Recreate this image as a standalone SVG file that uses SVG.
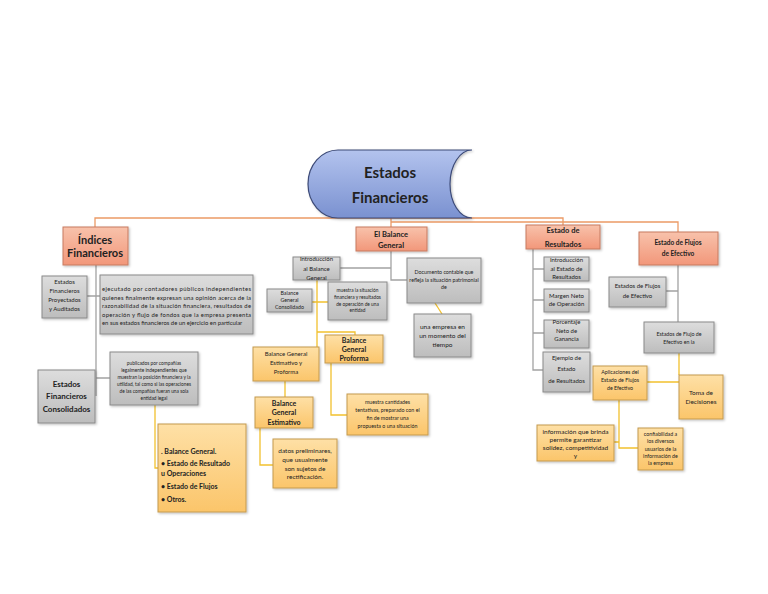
<svg xmlns="http://www.w3.org/2000/svg" width="768" height="594" viewBox="0 0 768 594">
<defs>
<linearGradient id="gGray" x1="0" y1="0" x2="0" y2="1"><stop offset="0" stop-color="#dddddd"/><stop offset="1" stop-color="#bdbdbd"/></linearGradient>
<linearGradient id="gOr" x1="0" y1="0" x2="0" y2="1"><stop offset="0" stop-color="#f8c2ab"/><stop offset="1" stop-color="#f2977a"/></linearGradient>
<linearGradient id="gYe" x1="0" y1="0" x2="0" y2="1"><stop offset="0" stop-color="#fee0a6"/><stop offset="1" stop-color="#fbc56a"/></linearGradient>
<linearGradient id="gBl" x1="0" y1="0" x2="0" y2="1"><stop offset="0" stop-color="#b3c3ee"/><stop offset="1" stop-color="#7a91d0"/></linearGradient>
<filter id="sh" x="-20%" y="-20%" width="150%" height="150%"><feDropShadow dx="1.2" dy="1.2" stdDeviation="0.8" flood-color="#000" flood-opacity="0.25"/></filter>
</defs>
<style>
text{font-family:Lato,"Liberation Sans",Arial,sans-serif;fill:#222;text-anchor:middle}
.b{font-weight:bold}
.l{text-anchor:start}
.gray{fill:url(#gGray);stroke:#8a8a8a;stroke-width:1;filter:url(#sh)}
.or{fill:url(#gOr);stroke:#c77b60;stroke-width:1;filter:url(#sh)}
.ye{fill:url(#gYe);stroke:#c49a4f;stroke-width:1;filter:url(#sh)}
.co{fill:none;stroke:#ec9a66;stroke-width:1.3}
.cg{fill:none;stroke:#a3a3a3;stroke-width:1.3}
.cy{fill:none;stroke:#f2c12e;stroke-width:1.3}
</style>
<rect width="768" height="594" fill="#ffffff"/>
<g id="connectors">
<path class="co" d="M95,227 V218 H563 V225"/>
<path class="co" d="M391,214 V227"/>
<path class="co" d="M391,222 H678 V232"/>
<path class="cg" d="M96,265 V396 M87,296 H100 M96,378 H110"/>
<path class="cy" d="M155,405 V468 H158"/>
<path class="cg" d="M391,251 V280 H407 M340,268 H391"/>
<path class="cy" d="M435,303 L442,314"/>
<path class="cy" d="M317,280 V347 M312,302 H328 M317,332 H355 V335"/>
<path class="cy" d="M285,381 V397"/>
<path class="cy" d="M331,363 V415 H347"/>
<path class="cy" d="M260,428 V465 H273"/>
<path class="cg" d="M533,249 V370 H543 M533,269 H544 M533,300 H544 M533,333 H544"/>
<path class="cg" d="M678,265 V322 M666,291 H678"/>
<path class="cy" d="M679,353 V375 M647,382 H679"/>
<path class="cy" d="M619,400 V448 H638 M614,442 H619"/>
</g>
<g id="title">
<path d="M338,150 H472 A22,34 0 0 0 472,218 H338 A30,34 0 0 1 338,150 Z" fill="url(#gBl)" stroke="#3c4a77" stroke-width="1.2" filter="url(#sh)"/>
<text x="390" y="178" class="b" font-size="15">Estados</text>
<text x="390" y="203" class="b" font-size="15">Financieros</text>
</g>
<g id="indices"><rect class="or" x="63" y="227" width="65" height="38"/>
<text x="95" y="244" class="b" font-size="11">Índices</text><text x="95" y="257" class="b" font-size="11">Financieros</text></g>
<g id="balance"><rect class="or" x="356" y="227" width="71" height="24"/>
<text x="391" y="237" class="b" font-size="7.5">El Balance</text><text x="391" y="248" class="b" font-size="7.5">General</text></g>
<g id="resultados"><rect class="or" x="526" y="225" width="74" height="24"/>
<text x="563" y="233" class="b" font-size="7.5">Estado de</text><text x="563" y="247" class="b" font-size="7.5">Resultados</text></g>
<g id="flujos"><rect class="or" x="639" y="232" width="79" height="33"/>
<text x="678" y="244.5" class="b" font-size="6.5">Estado de Flujos</text><text x="678" y="255.5" class="b" font-size="6.5">de Efectivo</text></g>
<g id="proyectados"><rect class="gray" x="42" y="276" width="45" height="42"/>
<text x="64.5" y="284" font-size="6">Estados</text><text x="64.5" y="293" font-size="6">Financieros</text><text x="64.5" y="302" font-size="6">Proyectados</text><text x="64.5" y="311" font-size="6">y Auditados</text></g>
<g id="ejecutado"><rect class="gray" x="100" y="275" width="153" height="59"/>
<g font-size="5.9">
<text class="l" x="102" y="291" textLength="149" lengthAdjust="spacing">ejecutado por contadores públicos independientes</text>
<text class="l" x="102" y="299.5" textLength="149" lengthAdjust="spacing">quienes finalmente expresan una opinión acerca de la</text>
<text class="l" x="102" y="308" textLength="149" lengthAdjust="spacing">razonabilidad de la situación financiera, resultados de</text>
<text class="l" x="102" y="316.5" textLength="149" lengthAdjust="spacing">operación y flujo de fondos que la empresa presenta</text>
<text class="l" x="102" y="325">en sus estados financieros de un ejercicio en particular</text>
</g></g>
<g id="consolidados"><rect class="gray" x="38" y="370" width="57" height="53"/>
<text x="66.5" y="387" class="b" font-size="8">Estados</text><text x="66.5" y="399" class="b" font-size="8">Financieros</text><text x="66.5" y="412" class="b" font-size="8">Consolidados</text></g>
<g id="publicados"><rect class="gray" x="110" y="352" width="88" height="53"/>
<g font-size="4.8"><text x="154" y="365">publicados por compañías</text><text x="154" y="372">legalmente independientes que</text><text x="154" y="379">muestran la posición financiera y la</text><text x="154" y="386">utilidad, tal como si las operaciones</text><text x="154" y="393">de las compañías fueran una sola</text><text x="154" y="400">entidad legal</text></g></g>
<g id="lista"><rect class="ye" x="158" y="424" width="88" height="88"/>
<g class="b" font-size="7"><text class="l" x="161" y="454">. Balance General.</text><text class="l" x="161" y="466">•  Estado de Resultado</text><text class="l" x="161" y="476">u   Operaciones</text><text class="l" x="161" y="489">•  Estado de Flujos</text><text class="l" x="161" y="502">•  Otros.</text></g></g>
<g id="introbal"><rect class="gray" x="293" y="257" width="47" height="23"/>
<g font-size="6"><text x="316.5" y="261">Introducción</text><text x="316.5" y="271">al Balance</text><text x="316.5" y="280">General</text></g></g>
<g id="documento"><rect class="gray" x="407" y="258" width="74" height="45"/>
<g font-size="5.3"><text x="444" y="274">Documento contable que</text><text x="444" y="282">refleja la situación patrimonial</text><text x="444" y="289">de</text></g></g>
<g id="empresa"><rect class="gray" x="414" y="314" width="57" height="43"/>
<g font-size="6.5"><text x="442.5" y="329">una empresa en</text><text x="442.5" y="338">un momento del</text><text x="442.5" y="347">tiempo</text></g></g>
<g id="bgconsolidado"><rect class="gray" x="267" y="289" width="45" height="23"/>
<g font-size="5.3"><text x="289.5" y="295">Balance</text><text x="289.5" y="302">General</text><text x="289.5" y="309">Consolidado</text></g></g>
<g id="muestrasit"><rect class="gray" x="328" y="282" width="59" height="38"/>
<g font-size="4.8"><text x="357.5" y="292">muestra la situación</text><text x="357.5" y="299">financiera y resultados</text><text x="357.5" y="305.5">de operación de una</text><text x="357.5" y="312">entidad</text></g></g>
<g id="estyprof"><rect class="ye" x="253" y="347" width="66" height="34"/>
<g font-size="6"><text x="286" y="356">Balance General</text><text x="286" y="365">Estimativo y</text><text x="286" y="374">Proforma</text></g></g>
<g id="proforma"><rect class="ye" x="325" y="335" width="58" height="28"/>
<g class="b" font-size="7"><text x="354" y="342.5">Balance</text><text x="354" y="351.5">General</text><text x="354" y="360.5">Proforma</text></g></g>
<g id="estimativo"><rect class="ye" x="255" y="397" width="58" height="31"/>
<g class="b" font-size="7"><text x="284" y="405.5">Balance</text><text x="284" y="414.5">General</text><text x="284" y="424.5">Estimativo</text></g></g>
<g id="muestracant"><rect class="ye" x="347" y="394" width="81" height="41"/>
<g font-size="5.3"><text x="387.5" y="404">muestra cantidades</text><text x="387.5" y="412">tentativas, preparado con el</text><text x="387.5" y="420">fin de mostrar una</text><text x="387.5" y="428">propuesta o una situación</text></g></g>
<g id="datos"><rect class="ye" x="273" y="439" width="64" height="49"/>
<g font-size="6.5"><text x="305" y="452.5">datos preliminares,</text><text x="305" y="461.5">que usualmente</text><text x="305" y="470.5">son sujetos de</text><text x="305" y="478.5">rectificación.</text></g></g>
<g id="introres"><rect class="gray" x="544" y="257" width="45" height="24"/>
<g font-size="6"><text x="566.5" y="262">Introducción</text><text x="566.5" y="271">al Estado de</text><text x="566.5" y="279">Resultados</text></g></g>
<g id="margen"><rect class="gray" x="544" y="289" width="45" height="23"/>
<g font-size="6"><text x="566.5" y="298">Margen Neto</text><text x="566.5" y="306">de Operación</text></g></g>
<g id="porcentaje"><rect class="gray" x="544" y="320" width="45" height="28"/>
<g font-size="6"><text x="566.5" y="324">Porcentaje</text><text x="566.5" y="333">Neto de</text><text x="566.5" y="341">Ganancia</text></g></g>
<g id="ejemplo"><rect class="gray" x="543" y="352" width="47" height="40"/>
<g font-size="6"><text x="566.5" y="360">Ejemplo de</text><text x="566.5" y="371">Estado</text><text x="566.5" y="383">de Resultados</text></g></g>
<g id="estflujos"><rect class="gray" x="609" y="277" width="57" height="30"/>
<g font-size="6"><text x="637.5" y="288">Estados de Flujos</text><text x="637.5" y="298">de Efectivo</text></g></g>
<g id="enla"><rect class="gray" x="644" y="322" width="70" height="31"/>
<g font-size="5.3"><text x="679" y="336">Estados de Flujo de</text><text x="679" y="344">Efectivo en la</text></g></g>
<g id="aplicaciones"><rect class="ye" x="593" y="366" width="54" height="34"/>
<g font-size="5.3"><text x="620" y="374">Aplicaciones del</text><text x="620" y="382">Estado de Flujos</text><text x="620" y="390">de Efectivo</text></g></g>
<g id="toma"><rect class="ye" x="679" y="375" width="44" height="44"/>
<g font-size="6.5"><text x="701" y="394.5">Toma de</text><text x="701" y="403.5">Decisiones</text></g></g>
<g id="informacion"><rect class="ye" x="537" y="425" width="77" height="36"/>
<g font-size="6.5"><text x="575.5" y="433.5">información que brinda</text><text x="575.5" y="441.5">permite garantizar</text><text x="575.5" y="449.5">solidez, competitividad</text><text x="575.5" y="457.5">y</text></g></g>
<g id="confiabilidad"><rect class="ye" x="638" y="428" width="45" height="42"/>
<g font-size="5.3"><text x="660.5" y="436">confiabilidad a</text><text x="660.5" y="443">los diversos</text><text x="660.5" y="451">usuarios de la</text><text x="660.5" y="458">información de</text><text x="660.5" y="465">la empresa</text></g></g>
</svg>
